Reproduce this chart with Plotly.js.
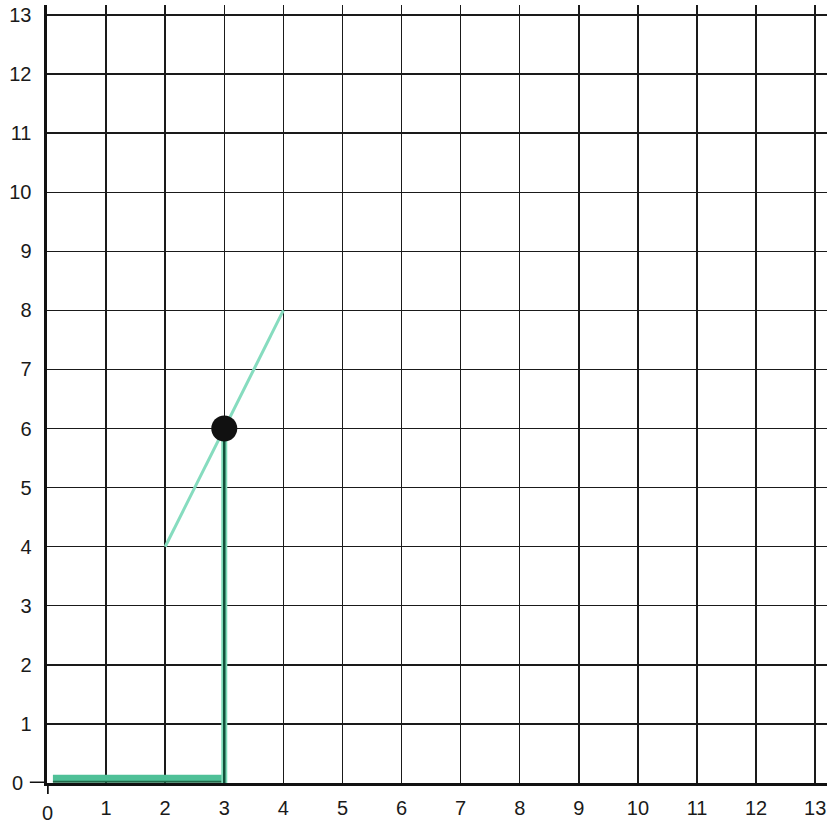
<!DOCTYPE html>
<html>
<head>
<meta charset="utf-8">
<script src="https://cdn.plot.ly/plotly-3.0.1.min.js"></script>
<style>html,body{margin:0;padding:0;background:#fff;}#chart{width:835px;height:826px;}</style>
</head>
<body>
<div id="chart"></div>
<script>
// Data
const tickVals = [0,1,2,3,4,5,6,7,8,9,10,11,12,13];
const xTickLabels = ['', '1','2','3','4','5','6','7','8','9','10','11','12','13'];
const yTickLabels = ['', '1','2','3','4','5','6','7','8','9','10','11','12','13'];
const originLabel = '0';
const baseX = [0.1, 3];
const baseY = [0.08, 0.08];
const baseEdgeY = [0.02, 0.02];
const stemX = [3, 3];
const stemY = [0, 6];
const slopeX = [2, 4];
const slopeY = [4, 8];
const pointX = [3];
const pointY = [6];

const font = {family: 'Liberation Sans, Arial, sans-serif', size: 20, color: '#1a1a1a'};

const traces = [
  {x: baseX, y: baseY, mode: 'lines', line: {color: '#4fc097', width: 7}, hoverinfo: 'skip'},
  {x: baseX, y: baseEdgeY, mode: 'lines', line: {color: '#1f6b4a', width: 2}, hoverinfo: 'skip'},
  {x: slopeX, y: slopeY, mode: 'lines', line: {color: '#86dcbf', width: 3}, hoverinfo: 'skip'},
  {x: stemX, y: stemY, mode: 'lines', line: {color: '#7fdcb9', width: 6}, hoverinfo: 'skip'},
  {x: stemX, y: stemY, mode: 'lines', line: {color: '#12503a', width: 2.5}, hoverinfo: 'skip'},
  {x: pointX, y: pointY, mode: 'markers', marker: {color: '#111', size: 26}, hoverinfo: 'skip'}
];

const layout = {
  width: 835, height: 826,
  margin: {l: 47, r: 8, t: 5, b: 43},
  paper_bgcolor: '#fff', plot_bgcolor: '#fff',
  showlegend: false,
  font: font,
  xaxis: {
    range: [0, 13.2], tickvals: tickVals, ticktext: xTickLabels,
    showgrid: true, gridcolor: '#1a1a1a', gridwidth: 1.4,
    zeroline: false, showline: true, linecolor: '#111', linewidth: 3,
    ticks: 'outside', ticklen: 5, tickcolor: 'rgba(0,0,0,0)',
    tickfont: font, fixedrange: true
  },
  yaxis: {
    range: [0, 13.17], tickvals: tickVals, ticktext: yTickLabels,
    showgrid: true, gridcolor: '#1a1a1a', gridwidth: 1.4,
    zeroline: false, showline: true, linecolor: '#111', linewidth: 3.5,
    ticks: 'outside', ticklen: 8, tickcolor: 'rgba(0,0,0,0)',
    tickfont: font, fixedrange: true
  },
  shapes: [
    {type: 'line', xref: 'paper', yref: 'y', x0: -0.022, x1: 0, y0: 0, y1: 0, line: {color: '#111', width: 3}},
    {type: 'line', xref: 'x', yref: 'paper', x0: 0, x1: 0, y0: -0.014, y1: 0, line: {color: '#111', width: 3.5}}
  ],
  annotations: [
    {x: 0, y: 0, xref: 'paper', yref: 'y', text: originLabel, showarrow: false, xanchor: 'right', xshift: -22, font: font},
    {x: 0, y: 0, xref: 'x', yref: 'paper', text: originLabel, showarrow: false, yanchor: 'top', yshift: -17, font: font}
  ]
};

Plotly.newPlot('chart', traces, layout, {displayModeBar: false, staticPlot: true});
</script>
</body>
</html>
